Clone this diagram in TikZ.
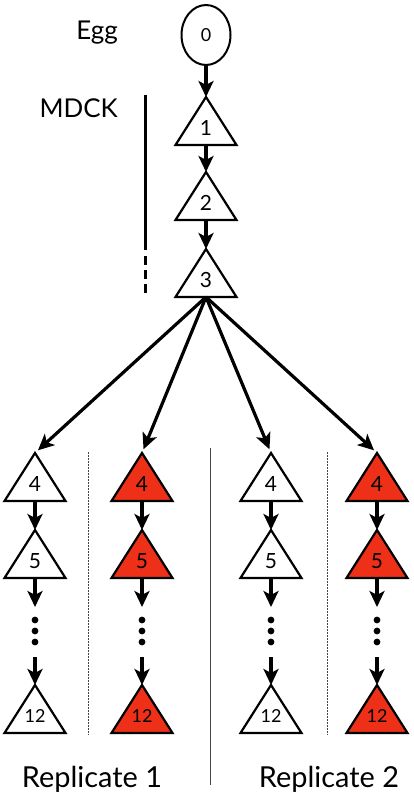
\documentclass[tikz,border=0pt]{standalone}
\usepackage{fontspec}
\setmainfont{Lato}
\usetikzlibrary{arrows.meta,shapes.geometric}
\definecolor{tred}{RGB}{238,48,25}
\definecolor{sepgray}{RGB}{70,70,70}
\tikzset{
  tribox/.style={draw=black,line width=2.2bp,line join=miter},
  num/.style={inner sep=0pt,font=\fontsize{21}{21}\selectfont},
  smallnum/.style={inner sep=0pt,font=\fontsize{18}{18}\selectfont},
  arr/.style={line width=3.2bp,-{Stealth[length=16bp,width=15bp,inset=4bp]}},
  fan/.style={arr,shorten >=4bp},
  dotnode/.style={circle,fill=black,inner sep=0pt,minimum size=6.8bp},
  lbl/.style={inner sep=0pt,font=\fontsize{26}{26}\selectfont},
  biglbl/.style={inner sep=0pt,font=\fontsize{29}{29}\selectfont},
  dotsep/.style={line width=1bp,draw=sepgray,dash pattern=on 1.5bp off 1.5bp},
}
\newcommand{\mytri}[6]{%
  \draw[tribox,fill=#4] (#2,#3) -- ++(30.5,48) -- ++(-61,0) -- cycle;
  \coordinate (#1-apex) at (#2,#3);
  \coordinate (#1-base) at (#2,#3+48);
  \node[#6] (#1) at (#2,#3+31) {#5};
}
\newcommand{\mycolumn}[3]{% prefix, x, fill
  \mytri{#1a}{#2}{453}{#3}{4}{num}
  \mytri{#1b}{#2}{530}{#3}{5}{num}
  \mytri{#1c}{#2}{685}{#3}{12}{smallnum}
  \draw[arr] (#1a-base) -- (#1b-apex);
  \coordinate (#1-d0) at (#2,607);
  \draw[arr] (#1b-base) -- (#1-d0);
  \node[dotnode] (#1-d1) at (#2,620) {};
  \node[dotnode] (#1-d2) at (#2,631) {};
  \node[dotnode] (#1-d3) at (#2,642) {};
  \coordinate (#1-d4) at (#2,657);
  \draw[arr] (#1-d4) -- (#1c-apex);
}
\begin{document}
\begin{tikzpicture}[x=1bp,y=-1bp]
\useasboundingbox (0,0) rectangle (413,800);
% top chain
\node[draw,line width=2bp,ellipse,minimum width=49bp,minimum height=60bp,inner sep=0pt,
      font=\fontsize{18}{18}\selectfont] (egg) at (206,35) {0};
\mytri{t1}{206}{97}{white}{1}{num}
\mytri{t2}{206}{172}{white}{2}{num}
\mytri{t3}{206}{249}{white}{3}{num}
\draw[arr] (egg.south) -- (t1-apex);
\draw[arr] (t1-base) -- (t2-apex);
\draw[arr] (t2-base) -- (t3-apex);
% labels
\node[lbl,anchor=base east] (egglbl) at (118,40) {Egg};
\node[lbl,anchor=base east] (mdck) at (118,117) {MDCK};
\coordinate (m1) at (145,95);
\coordinate (m2) at (145,250);
\coordinate (m3) at (145,256);
\coordinate (m4) at (145,295);
\draw[line width=3bp] (m1) -- (m2);
\draw[line width=3bp,dash pattern=on 9bp off 5bp] (m3) -- (m4);
% columns
\mycolumn{A}{35}{white}
\mycolumn{B}{142}{tred}
\mycolumn{C}{271}{white}
\mycolumn{D}{377}{tred}
% fan
\draw[fan] (t3-base) -- (Aa-apex);
\draw[fan] (t3-base) -- (Ba-apex);
\draw[fan] (t3-base) -- (Ca-apex);
\draw[fan] (t3-base) -- (Da-apex);
% separators
\coordinate (s1a) at (88,452);  \coordinate (s1b) at (88,735);
\coordinate (s2a) at (327,452); \coordinate (s2b) at (327,735);
\coordinate (s3a) at (210,448); \coordinate (s3b) at (210,785);
\draw[dotsep] (s1a) -- (s1b);
\draw[dotsep] (s2a) -- (s2b);
\draw[line width=1bp,draw=sepgray] (s3a) -- (s3b);
% replicate labels
\node[biglbl,anchor=base] (rep1) at (92,787) {Replicate 1};
\node[biglbl,anchor=base] (rep2) at (329,787) {Replicate 2};
\end{tikzpicture}
\end{document}
